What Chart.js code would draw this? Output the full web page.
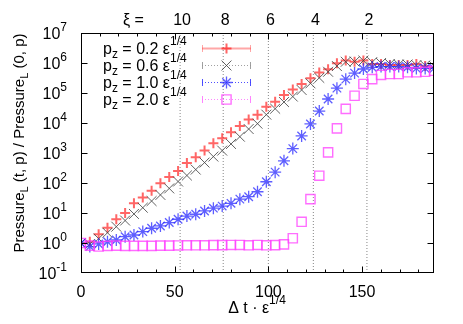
<!DOCTYPE html>
<html><head><meta charset="utf-8">
<script src="https://cdn.jsdelivr.net/npm/chart.js@4.4.1/dist/chart.umd.min.js"></script>
<style>html,body{margin:0;padding:0;background:#fff;}canvas{display:block;}</style>
</head><body>
<canvas id="c" width="463" height="324"></canvas>
<script>
// ---- data ----
const X_VALUES = [0, 4.71, 9.42, 14.13, 18.84, 23.55, 28.26, 32.97, 37.68, 42.39, 47.1, 51.81, 56.52, 61.23, 65.94, 70.65, 75.36, 80.07, 84.78, 89.49, 94.2, 98.91, 103.62, 108.33, 113.04, 117.75, 122.46, 127.17, 131.88, 136.59, 141.3, 146.01, 150.72, 155.43, 160.14, 164.85, 169.56, 174.27, 178.98, 183.69, 188.4];
const PZ02 = [0.98, 1.1, 1.95, 3.2, 6.2, 10, 21, 33, 55, 98, 160, 250, 460, 720, 1200, 2100, 3100, 4900, 7900, 13000, 19000, 35000, 51000, 85000, 130000, 200000, 310000, 480000, 620000, 980000, 1200000, 1100000, 1200000, 930000, 930000, 850000, 850000, 850000, 930000, 790000, 720000];
const PZ06 = [1.0, 0.92, 1.4, 2.2, 3.5, 5.6, 9.3, 15, 25, 40, 66, 112, 178, 280, 480, 760, 1200, 2000, 3500, 6300, 9500, 19000, 30000, 50000, 76000, 126000, 210000, 320000, 510000, 790000, 1100000, 1120000, 1200000, 1070000, 1000000, 930000, 890000, 890000, 850000, 830000, 790000];
const PZ10 = [0.98, 0.76, 0.93, 1.1, 1.26, 1.62, 1.85, 2.4, 3.1, 3.7, 4.8, 6.2, 7.9, 9.1, 11.7, 14.5, 17, 21, 29, 35, 51, 110, 230, 550, 1400, 3700, 9300, 25000, 63000, 145000, 290000, 460000, 630000, 720000, 760000, 760000, 760000, 720000, 660000, 660000, 660000];
const PZ20 = [1.0, 0.82, 0.76, 0.8, 0.82, 0.8, 0.8, 0.8, 0.8, 0.82, 0.82, 0.83, 0.84, 0.84, 0.84, 0.85, 0.85, 0.86, 0.86, 0.84, 0.86, 0.84, 0.85, 0.9, 1.44, 5.1, 29, 175, 1050, 6600, 29500, 81000, 200000, 290000, 400000, 430000, 430000, 490000, 490000, 510000, 550000];
const SERIES_LABELS = ['0.2', '0.6', '1.0', '2.0'];
const XI_POSITIONS = [52.9, 75.9, 100, 124, 152.6];
const XI_LABELS = ['10', '8', '6', '4', '2'];
const X_TICK_LABELS = [0, 50, 100, 150];
const X_MINOR_TICKS = [10, 20, 30, 40, 60, 70, 80, 90, 110, 120, 130, 140, 160, 170, 180];
const Y_DECADES = [-1, 0, 1, 2, 3, 4, 5, 6, 7];

const FONT = "'Liberation Sans', Arial, sans-serif";
const STYLES = [
  {color: 'rgba(255,20,20,0.65)', style: 'cross', r: 5, bw: 2, line: 'rgba(255,60,60,0.45)', lw: 2, dash: []},
  {color: 'rgba(70,70,70,0.85)', style: 'crossRot', r: 7, bw: 1, line: 'rgba(150,150,150,0.9)', lw: 1, dash: [1, 2]},
  {color: 'rgba(40,40,255,0.75)', style: 'star', r: 6, bw: 1.3, line: 'rgba(60,60,255,0.9)', lw: 1, dash: [1, 2]},
  {color: 'rgba(255,60,255,0.75)', style: 'rect', r: 6.5, bw: 1.4, line: 'rgba(255,120,255,0.9)', lw: 1, dash: [1, 2]}
];
const SERIES = [PZ02, PZ06, PZ10, PZ20];

function pts(arr) { return arr.map((v, i) => ({x: X_VALUES[i], y: v})); }

const datasets = [];
XI_POSITIONS.forEach(p => datasets.push({
  type: 'line', data: [{x: p, y: 0.1}, {x: p, y: 1e7}], borderColor: 'rgba(120,120,120,0.9)',
  borderWidth: 1, borderDash: [1, 2], pointRadius: 0, order: 20, parsing: false
}));
SERIES.forEach((s, k) => datasets.push({
  label: SERIES_LABELS[k], data: pts(s), showLine: false,
  pointStyle: STYLES[k].style, pointRadius: STYLES[k].r, pointHoverRadius: STYLES[k].r,
  borderColor: STYLES[k].color, backgroundColor: 'rgba(0,0,0,0)', pointBorderWidth: STYLES[k].bw,
  order: 4 - k
}));

function rich(ctx, parts, x, y, align) {
  let w = 0;
  parts.forEach(p => { ctx.font = p.s + 'px ' + FONT; w += ctx.measureText(p.t).width; });
  let cx = align === 'right' ? x - w : (align === 'center' ? x - w / 2 : x);
  parts.forEach(p => { ctx.font = p.s + 'px ' + FONT; ctx.fillText(p.t, cx, y + (p.dy || 0)); cx += ctx.measureText(p.t).width; });
  return w;
}

function marker(ctx, st, x, y) {
  ctx.save();
  ctx.strokeStyle = st.color; ctx.lineWidth = st.bw; ctx.beginPath();
  const r = st.r;
  if (st.style === 'cross' || st.style === 'star') { ctx.moveTo(x - r, y); ctx.lineTo(x + r, y); ctx.moveTo(x, y - r); ctx.lineTo(x, y + r); }
  if (st.style === 'crossRot' || st.style === 'star') { const o = r * Math.SQRT1_2; ctx.moveTo(x - o, y - o); ctx.lineTo(x + o, y + o); ctx.moveTo(x - o, y + o); ctx.lineTo(x + o, y - o); }
  if (st.style === 'rect') { const s = r * Math.SQRT1_2; ctx.rect(x - s, y - s, 2 * s, 2 * s); }
  ctx.stroke(); ctx.restore();
}

const decor = {
  id: 'decor',
  afterDraw(chart) {
    const ctx = chart.ctx, a = chart.chartArea, xs = chart.scales.x, ys = chart.scales.y;
    ctx.save();
    ctx.fillStyle = '#000'; ctx.strokeStyle = '#000'; ctx.lineWidth = 1; ctx.textBaseline = 'alphabetic'; ctx.textAlign = 'left';
    const L = Math.round(a.left) + 0.5, R = Math.round(a.right) - 0.5, T = Math.round(a.top) + 0.5, B = Math.round(a.bottom) - 0.5;
    ctx.strokeRect(L, T, R - L, B - T);
    ctx.beginPath();
    const xt = (v, len) => { const px = Math.round(xs.getPixelForValue(v)) + 0.5; ctx.moveTo(px, B); ctx.lineTo(px, B - len); ctx.moveTo(px, T); ctx.lineTo(px, T + len); };
    X_TICK_LABELS.forEach(v => xt(v, 6));
    X_MINOR_TICKS.forEach(v => xt(v, 3));
    ys.ticks.forEach(t => {
      const v = t.value; const lg = Math.log10(v); const major = Math.abs(lg - Math.round(lg)) < 1e-6;
      const py = Math.round(ys.getPixelForValue(v)) + 0.5; const len = major ? 6 : 3;
      if (py < T - 0.1 || py > B + 0.1) return;
      ctx.moveTo(L, py); ctx.lineTo(L + len, py); ctx.moveTo(R, py); ctx.lineTo(R - len, py);
    });
    ctx.stroke();
    X_TICK_LABELS.forEach(v => rich(ctx, [{t: String(v), s: 16}], xs.getPixelForValue(v), 297, 'center'));
    Y_DECADES.forEach(d => {
      const py = ys.getPixelForValue(Math.pow(10, d));
      rich(ctx, [{t: '10', s: 16}, {t: String(d), s: 12, dy: -8}], 67, py + 6, 'right');
    });
    rich(ctx, [{t: 'ξ =', s: 16}], 123, 25, 'left');
    XI_POSITIONS.forEach((p, i) => rich(ctx, [{t: XI_LABELS[i], s: 16}], xs.getPixelForValue(p) + 2, 25, 'center'));
    rich(ctx, [{t: 'Δ t · ε', s: 16}, {t: '1/4', s: 12, dy: -9}], 257, 313, 'center');
    ctx.save();
    ctx.translate(24, (a.top + a.bottom) / 2 - 10); ctx.rotate(-Math.PI / 2);
    rich(ctx, [{t: 'Pressure', s: 15}, {t: 'L', s: 11, dy: 4}, {t: ' (t, p) / Pressure', s: 15}, {t: 'L', s: 11, dy: 4}, {t: ' (0, p)', s: 15}], 0, 0, 'center');
    ctx.restore();
    SERIES_LABELS.forEach((lab, k) => {
      const y = 48 + k * 17;
      rich(ctx, [{t: 'p', s: 16}, {t: 'z', s: 12, dy: 4}, {t: ' = ' + lab + ' ε', s: 16}, {t: '1/4', s: 12, dy: -9}], 103, y + 6, 'left');
      const st = STYLES[k];
      ctx.save();
      ctx.strokeStyle = st.line; ctx.lineWidth = st.lw; ctx.setLineDash(st.dash);
      ctx.beginPath(); ctx.moveTo(202, y + 0.5); ctx.lineTo(251, y + 0.5); ctx.stroke();
      ctx.setLineDash([]); ctx.lineWidth = 1;
      ctx.beginPath(); ctx.moveTo(202.5, y - 3); ctx.lineTo(202.5, y + 4); ctx.moveTo(250.5, y - 3); ctx.lineTo(250.5, y + 4); ctx.stroke();
      ctx.restore();
      marker(ctx, st, 226.5, y + 0.5);
    });
    ctx.restore();
  }
};

new Chart(document.getElementById('c'), {
  type: 'scatter',
  data: {datasets},
  options: {
    responsive: false, animation: false, devicePixelRatio: 1,
    layout: {padding: {left: 81, right: 29, top: 33, bottom: 51}},
    plugins: {legend: {display: false}, tooltip: {enabled: false}},
    scales: {
      x: {type: 'linear', min: 0, max: 188.4, display: false},
      y: {type: 'logarithmic', min: 0.1, max: 1e7, display: false}
    }
  },
  plugins: [decor]
});
</script>
</body></html>
